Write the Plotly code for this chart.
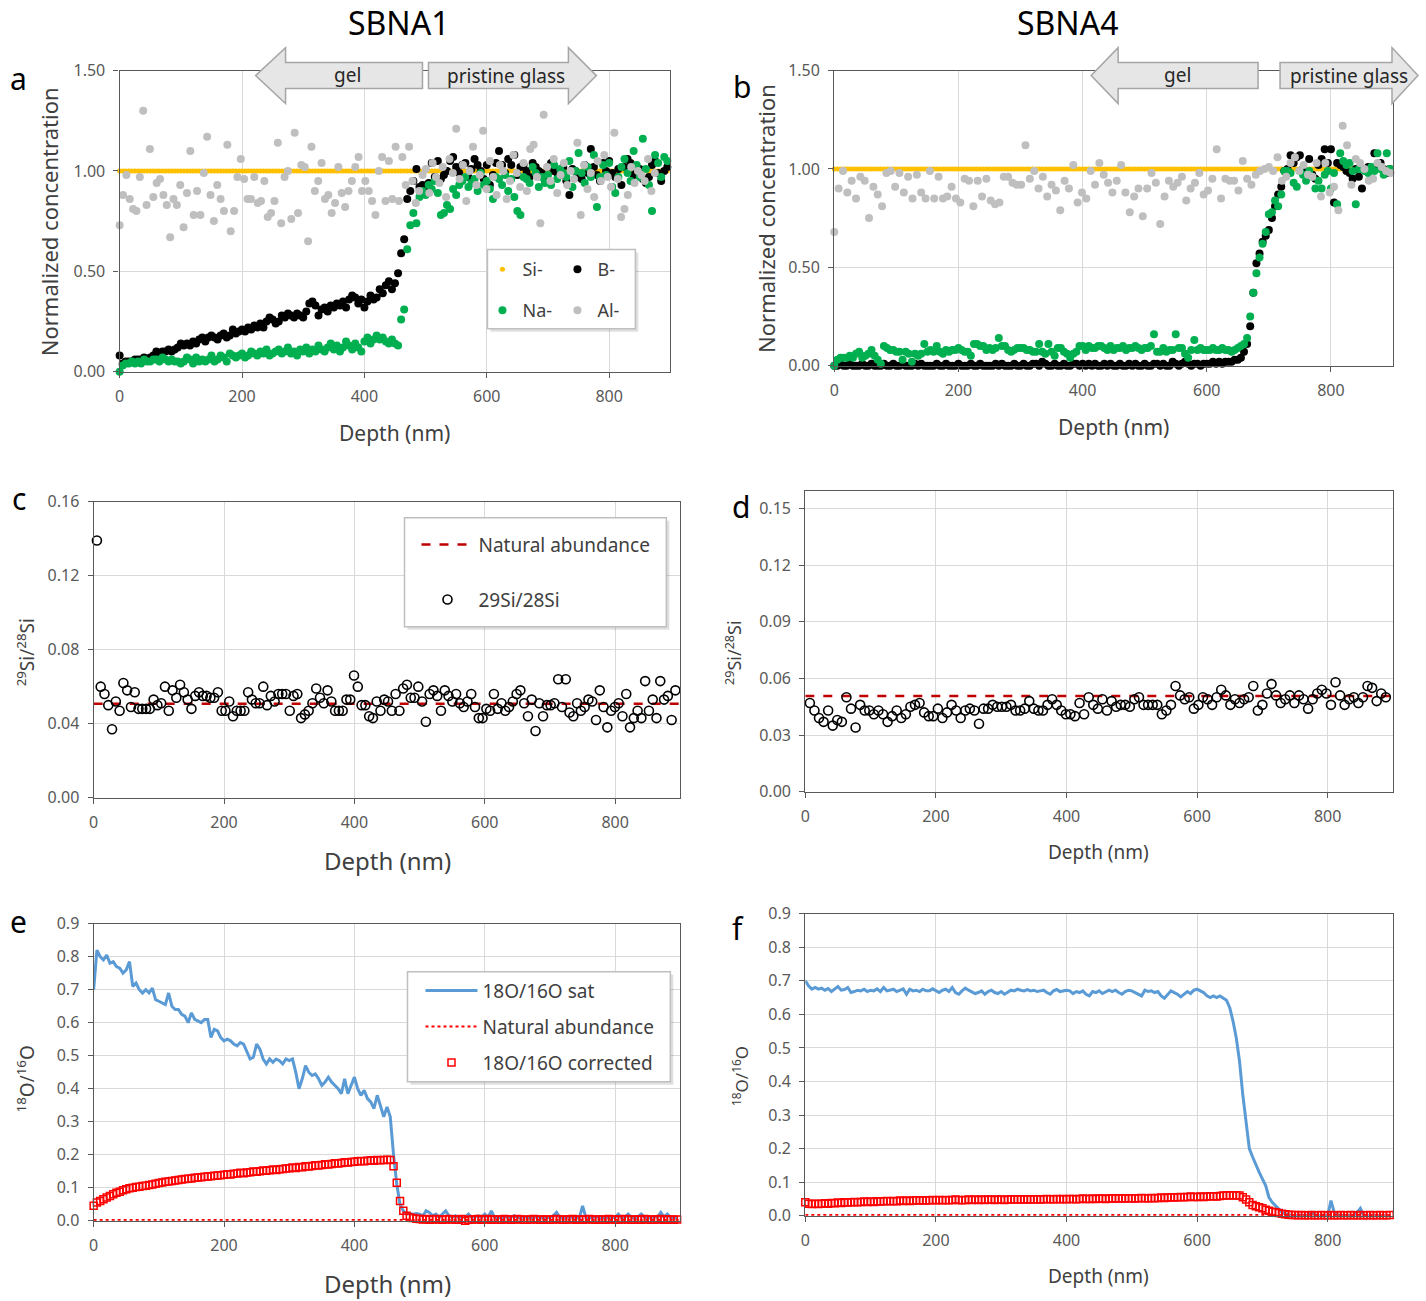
import plotly.graph_objects as go

W, H = 1426, 1301
# reference-pixel -> paper conversion (compensates the small offset/scale seen in the rendered page)
OX, SX, OY, SY = 4.3, 0.997, 10.4, 0.983
def fx(p): return ((p - OX) / SX) / W
def fy(p): return 1 - ((p - OY) / SY) / H

# ------------------------------------------------------------------ DATA
STEP = 5          # nm, depth sampling of most profiles
STEP_AL_A = 5.5   # nm, Al- profile SBNA1
STEP_AL_B = 7     # nm, Al- profile SBNA4
C_START, C_STEP = 5, 5.8   # 29Si/28Si SBNA1
D_START, D_STEP = 7, 7     # 29Si/28Si SBNA4
X_TICKS = [0, 200, 400, 600, 800]

# Panel a  (SBNA1, normalized concentration)
b_a = [0.08,0.04,0.05,0.05,0.05,0.06,0.06,0.06,0.07,0.06,0.07,0.08,0.10,0.09,0.10,0.10,0.11,0.10,0.11,0.12,
       0.14,0.13,0.14,0.13,0.15,0.14,0.16,0.17,0.15,0.17,0.18,0.17,0.16,0.18,0.19,0.17,0.18,0.21,0.19,0.20,
       0.21,0.20,0.22,0.21,0.23,0.22,0.24,0.22,0.25,0.27,0.26,0.24,0.25,0.28,0.27,0.29,0.28,0.27,0.29,0.28,
       0.27,0.30,0.34,0.35,0.33,0.28,0.31,0.32,0.30,0.33,0.32,0.34,0.33,0.35,0.32,0.36,0.38,0.37,0.34,0.36,
       0.32,0.35,0.38,0.36,0.37,0.41,0.39,0.43,0.45,0.41,0.44,0.49,0.59,0.66,0.86,0.90,0.95,1.01,0.92,0.93,
       0.91,0.94,1.04,0.97,1.05,0.96,0.98,1.00,1.05,1.07,1.02,0.99,1.03,1.04,0.97,1.01,1.06,1.03,1.00,0.96,
       1.03,0.93,0.98,1.04,1.10,1.03,0.99,1.06,1.03,1.08,0.98,1.02,1.03,1.00,0.97,1.04,1.02,1.00,0.99,0.95,
       1.02,1.04,1.00,0.99,0.98,1.02,0.95,0.88,1.01,1.00,0.97,0.96,1.03,0.99,1.11,1.02,0.98,0.95,1.04,1.00,
       1.05,0.99,0.97,1.01,0.93,1.02,1.06,1.04,0.98,1.00,1.01,0.96,0.94,0.97,1.03,1.05,0.99,0.95,1.00,1.02]
na_a = [0.00,0.03,0.04,0.04,0.05,0.04,0.05,0.04,0.06,0.05,0.05,0.06,0.06,0.05,0.07,0.06,0.05,0.06,0.05,0.05,
        0.04,0.05,0.07,0.06,0.04,0.07,0.05,0.06,0.05,0.06,0.08,0.05,0.06,0.08,0.07,0.05,0.09,0.08,0.07,0.08,
        0.09,0.07,0.08,0.10,0.09,0.08,0.10,0.09,0.11,0.08,0.09,0.10,0.11,0.09,0.10,0.12,0.09,0.10,0.08,0.11,
        0.10,0.12,0.09,0.11,0.10,0.13,0.11,0.10,0.12,0.14,0.11,0.13,0.10,0.12,0.15,0.13,0.11,0.14,0.12,0.10,
        0.15,0.17,0.14,0.16,0.18,0.16,0.17,0.15,0.14,0.16,0.14,0.13,0.26,0.31,0.61,0.73,0.79,0.74,0.87,0.90,
        0.88,0.93,0.91,0.95,0.89,0.78,0.79,0.83,0.81,0.91,0.88,0.93,0.95,0.97,0.92,0.94,0.96,0.90,0.99,0.93,
        0.95,0.91,0.86,0.97,0.96,0.93,0.98,0.90,0.96,0.87,0.80,0.78,0.97,0.96,0.94,1.02,0.99,0.92,0.97,0.94,
        0.98,0.93,1.03,0.96,1.01,0.99,0.97,1.05,0.92,1.00,1.09,0.99,0.94,1.02,0.97,1.08,0.82,0.97,1.03,0.98,
        1.04,0.92,0.89,0.97,1.02,1.06,0.99,0.95,1.10,1.03,0.97,1.16,1.01,0.93,0.80,1.08,1.04,0.97,1.07,1.05]
al_a = [0.73,0.88,0.98,0.86,0.81,0.80,0.97,1.30,0.83,1.11,0.87,0.94,0.96,0.88,0.83,0.67,0.86,0.83,0.93,0.72,
        0.89,1.10,0.78,0.90,0.78,0.99,1.17,0.88,0.75,0.93,0.86,0.80,1.13,0.70,0.80,0.97,1.06,0.96,0.86,0.86,
        0.97,0.84,0.85,0.95,0.77,0.79,0.85,1.14,0.74,0.97,1.00,0.76,1.19,0.79,1.03,1.02,0.65,1.12,0.90,0.95,
        1.04,0.86,0.88,0.79,0.84,1.02,0.89,0.82,0.90,0.95,1.02,1.07,0.90,0.95,0.90,0.85,0.78,1.00,1.07,0.85,
        1.05,0.86,1.12,0.85,1.07,
        0.93,1.12,0.95,0.84,0.90,0.98,1.01,0.89,1.04,0.97,0.94,1.02,0.87,1.06,0.99,1.21,0.96,1.03,0.85,1.00,
        1.12,0.93,0.98,1.20,0.91,1.05,0.97,0.88,1.03,1.00,0.86,0.95,1.08,0.99,0.92,1.04,0.90,1.11,1.13,0.97,
        0.74,1.28,1.02,0.95,1.06,0.89,0.98,1.04,0.93,1.00,0.96,1.14,0.78,1.03,0.91,0.99,0.87,1.05,0.95,1.08,
        0.97,0.92,1.19,0.96,0.77,0.81,0.88,1.02,0.94,1.00,0.98,0.95,1.06,0.90,0.99]
si_a = [1.00] * len(b_a)

# Panel b  (SBNA4, normalized concentration)
b_b = [0.00,0.00,0.01,0.00,0.00,0.01,0.00,0.00,0.00,0.01,0.00,0.00,0.01,0.00,0.00,0.00,0.01,0.00,0.00,0.01,
       0.00,0.00,0.01,0.00,0.00,0.00,0.01,0.00,0.01,0.00,0.00,0.00,0.00,0.01,0.00,0.00,0.01,0.00,0.00,0.00,
       0.01,0.00,0.00,0.00,0.01,0.00,0.00,0.01,0.00,0.00,0.00,0.00,0.01,0.00,0.01,0.00,0.00,0.00,0.01,0.00,
       0.00,0.01,0.00,0.00,0.01,0.01,0.00,0.02,0.01,0.00,0.00,0.01,0.00,0.00,0.01,0.00,0.00,0.01,0.01,0.00,
       0.01,0.00,0.01,0.00,0.01,0.00,0.00,0.01,0.00,0.01,0.00,0.00,0.01,0.00,0.00,0.01,0.00,0.01,0.00,0.00,
       0.01,0.00,0.00,0.01,0.01,0.00,0.01,0.00,0.00,0.02,0.01,0.00,0.01,0.02,0.01,0.00,0.01,0.01,0.00,0.01,
       0.01,0.01,0.02,0.01,0.02,0.01,0.02,0.02,0.02,0.03,0.03,0.04,0.07,0.11,0.20,0.37,0.52,0.57,0.63,0.66,
       0.69,0.75,0.81,0.87,0.91,0.99,1.00,1.07,1.03,1.06,1.07,1.00,0.98,1.05,0.97,0.95,1.02,1.05,1.10,1.03,
       1.10,0.83,1.03,1.02,1.01,0.99,0.98,0.95,1.00,0.96,0.90,1.00,1.01,1.00,1.08,1.02,1.03,1.00,0.98,1.00]
na_b = [0.00,0.03,0.04,0.04,0.04,0.05,0.04,0.06,0.07,0.04,0.05,0.06,0.08,0.05,0.03,0.01,0.10,0.09,0.08,0.08,
        0.07,0.07,0.03,0.07,0.06,0.02,0.06,0.05,0.06,0.11,0.07,0.08,0.07,0.10,0.07,0.06,0.08,0.07,0.08,0.08,
        0.09,0.08,0.07,0.07,0.05,0.11,0.11,0.10,0.10,0.08,0.09,0.08,0.09,0.14,0.10,0.10,0.08,0.07,0.08,0.09,
        0.09,0.09,0.08,0.08,0.07,0.07,0.11,0.07,0.06,0.11,0.07,0.05,0.09,0.09,0.07,0.06,0.04,0.06,0.07,0.10,
        0.10,0.08,0.10,0.09,0.09,0.10,0.10,0.09,0.08,0.10,0.08,0.09,0.09,0.10,0.08,0.09,0.09,0.10,0.09,0.08,
        0.09,0.09,0.10,0.16,0.07,0.07,0.09,0.07,0.08,0.08,0.16,0.09,0.09,0.06,0.04,0.08,0.13,0.08,0.09,0.08,
        0.08,0.08,0.09,0.08,0.08,0.09,0.08,0.08,0.07,0.08,0.09,0.10,0.11,0.14,0.25,0.37,0.47,0.55,0.62,0.68,
        0.77,0.78,0.84,0.81,0.87,0.99,0.99,0.98,0.93,0.91,0.99,0.97,0.94,0.99,0.96,0.90,0.94,0.90,0.97,0.99,
        0.90,0.98,0.82,1.08,1.04,1.02,1.03,0.99,0.82,1.00,1.00,0.99,0.98,1.01,0.99,1.08,1.00,0.97,1.08,1.00]
al_b = [0.68,0.90,0.99,0.88,0.94,0.85,0.96,0.94,0.75,0.91,0.87,0.81,0.98,0.99,0.91,0.98,0.88,0.96,0.85,0.97,
        0.88,0.85,0.99,0.85,0.96,0.85,0.86,0.91,0.85,0.83,0.95,0.94,0.81,0.94,0.86,0.95,0.84,0.82,0.83,0.96,
        0.96,0.93,0.92,0.92,1.12,0.95,0.99,0.90,0.96,0.86,0.92,0.89,0.79,0.94,0.90,1.02,0.83,0.88,0.85,0.99,
        0.92,1.03,0.97,0.93,0.88,0.94,
        1.02,0.88,0.78,0.86,0.90,0.76,0.90,0.98,0.93,0.72,0.86,0.94,0.91,0.93,0.96,0.84,0.90,0.93,0.98,0.87,
        0.89,0.95,1.10,0.85,0.95,0.94,0.94,0.89,1.04,0.95,0.92,0.97,0.99,1.00,1.01,0.99,1.06,0.94,0.96,1.03,
        1.06,0.99,1.02,0.97,0.96,1.03,0.86,1.03,0.88,0.91,0.79,1.22,1.12,0.92,1.05,1.03,1.00,0.94,0.95,1.03,
        1.01,0.99,0.98]
si_b = [1.00] * len(b_b)

# Panel c  (SBNA1, 29Si/28Si)
si29_c = [0.139,0.060,0.056,0.050,0.037,0.052,0.047,0.062,0.058,0.049,0.057,0.048,0.048,0.048,0.048,0.053,
          0.050,0.051,0.060,0.047,0.058,0.054,0.061,0.057,0.053,0.048,0.055,0.057,0.055,0.055,0.054,0.054,
          0.057,0.047,0.047,0.052,0.044,0.047,0.047,0.047,0.057,0.053,0.051,0.051,0.060,0.050,0.055,0.052,
          0.056,0.056,0.056,0.047,0.055,0.056,0.043,0.045,0.047,0.051,0.059,0.054,0.051,0.058,0.052,0.047,
          0.047,0.047,0.053,0.053,0.066,0.060,0.050,0.050,0.044,0.043,0.052,0.047,0.053,0.052,0.047,0.056,
          0.047,0.059,0.061,0.054,0.054,0.060,0.052,0.041,0.056,0.058,0.055,0.047,0.058,0.055,0.052,0.056,
          0.051,0.049,0.052,0.056,0.049,0.043,0.043,0.048,0.047,0.056,0.048,0.051,0.047,0.049,0.052,0.056,
          0.058,0.051,0.044,0.053,0.036,0.051,0.044,0.050,0.050,0.051,0.064,0.049,0.064,0.046,0.044,0.051,
          0.047,0.049,0.053,0.052,0.042,0.058,0.049,0.038,0.047,0.049,0.051,0.044,0.056,0.038,0.043,0.047,
          0.043,0.063,0.047,0.053,0.043,0.063,0.053,0.055,0.042,0.058]
nat_si = [0.0507, 0.0507]
nat_depth = [0, 900]

# Panel d  (SBNA4, 29Si/28Si)
si29_d = [0.047,0.043,0.039,0.037,0.043,0.035,0.038,0.037,0.050,0.044,0.034,0.046,0.043,0.043,0.041,0.043,
          0.041,0.037,0.040,0.043,0.039,0.041,0.045,0.046,0.047,0.042,0.040,0.040,0.044,0.039,0.042,0.046,
          0.043,0.039,0.043,0.044,0.043,0.036,0.044,0.044,0.046,0.045,0.045,0.045,0.046,0.043,0.043,0.044,
          0.048,0.044,0.043,0.043,0.046,0.049,0.046,0.043,0.041,0.041,0.040,0.047,0.041,0.050,0.046,0.044,
          0.049,0.043,0.048,0.045,0.046,0.046,0.045,0.049,0.050,0.046,0.046,0.046,0.046,0.041,0.043,0.046,
          0.056,0.051,0.049,0.050,0.044,0.046,0.050,0.049,0.046,0.050,0.054,0.051,0.046,0.049,0.047,0.049,
          0.050,0.056,0.043,0.046,0.052,0.057,0.051,0.047,0.049,0.051,0.047,0.051,0.049,0.044,0.049,0.052,
          0.054,0.052,0.046,0.058,0.051,0.046,0.049,0.050,0.047,0.050,0.056,0.055,0.048,0.052,0.050]

# Panel e  (SBNA1, 18O/16O)
o_sat_e = [0.70,0.82,0.80,0.79,0.805,0.78,0.785,0.77,0.765,0.75,0.76,0.785,0.71,0.72,0.70,0.69,0.70,0.69,0.705,0.67,
           0.665,0.66,0.655,0.69,0.65,0.64,0.64,0.625,0.62,0.60,0.63,0.61,0.605,0.60,0.61,0.61,0.555,0.58,0.575,0.555,
           0.545,0.55,0.545,0.535,0.53,0.54,0.535,0.51,0.49,0.495,0.535,0.52,0.49,0.475,0.49,0.48,0.49,0.485,0.475,0.49,
           0.485,0.49,0.45,0.40,0.43,0.47,0.45,0.44,0.445,0.43,0.41,0.42,0.435,0.42,0.41,0.40,0.385,0.43,0.385,0.41,
           0.435,0.40,0.38,0.395,0.37,0.36,0.34,0.38,0.35,0.315,0.345,0.315,0.20,0.11,0.05,0.03,0.02,0.022,0.02,0.022,
           0.02,0.015,0.03,0.025,0.015,0.02,0.01,0.02,0.03,0.015,0.01,0.015,0.01,0.012,0.01,0.02,0.01,0.012,0.015,0.01,
           0.02,0.01,0.03,0.01,0.01,0.008,0.012,0.01,0.01,0.015,0.01,0.01,0.012,0.01,0.008,0.01,0.012,0.01,0.008,0.01,
           0.01,0.015,0.025,0.01,0.008,0.01,0.012,0.01,0.01,0.008,0.045,0.01,0.008,0.01,0.012,0.01,0.008,0.01,0.01,0.012,
           0.01,0.02,0.008,0.01,0.02,0.01,0.008,0.012,0.02,0.01,0.008,0.01,0.012,0.01,0.025,0.01,0.02,0.01,0.008,0.01]
o_cor_e = [0.045,0.055,0.060,0.065,0.070,0.075,0.080,0.085,0.088,0.092,0.095,0.098,0.100,0.102,0.103,0.105,0.106,0.108,0.110,0.112,
           0.114,0.116,0.118,0.119,0.120,0.122,0.123,0.125,0.126,0.127,0.128,0.130,0.131,0.132,0.133,0.134,0.135,0.136,0.137,0.138,
           0.139,0.141,0.140,0.142,0.143,0.145,0.144,0.146,0.147,0.149,0.148,0.150,0.152,0.151,0.153,0.155,0.154,0.156,0.157,0.158,
           0.159,0.161,0.160,0.163,0.162,0.165,0.164,0.166,0.168,0.167,0.169,0.171,0.170,0.172,0.174,0.173,0.175,0.177,0.176,0.178,
           0.179,0.180,0.181,0.180,0.182,0.183,0.182,0.184,0.183,0.184,0.185,0.184,0.165,0.115,0.060,0.030,0.015,0.010,0.008,0.006,
           0.005,0.004,0.005,0.003,0.004,0.005,0.004,0.003,0.004,0.005,0.004,0.004,0.003,0.005,0.000,0.003,0.004,0.004,0.005,0.003,
           0.004,0.005,0.003,0.004,0.004,0.003,0.005,0.004,0.003,0.004,0.005,0.004,0.003,0.003,0.004,0.005,0.004,0.003,0.004,0.004,
           0.003,0.004,0.005,0.004,0.003,0.004,0.004,0.005,0.003,0.004,0.003,0.004,0.005,0.004,0.003,0.004,0.004,0.003,0.005,0.004,
           0.004,0.003,0.004,0.005,0.004,0.003,0.004,0.004,0.003,0.005,0.004,0.003,0.004,0.004,0.005,0.003,0.004,0.004,0.003,0.004]
nat_o = [0.002, 0.002]

# Panel f  (SBNA4, 18O/16O)
o_sat_f = [0.70,0.685,0.675,0.68,0.675,0.678,0.672,0.677,0.668,0.675,0.683,0.672,0.674,0.68,0.665,0.668,0.672,0.67,0.675,0.668,
           0.672,0.67,0.676,0.668,0.68,0.67,0.673,0.675,0.668,0.672,0.676,0.66,0.675,0.67,0.672,0.668,0.675,0.67,0.67,0.676,
           0.67,0.665,0.672,0.675,0.668,0.68,0.665,0.66,0.67,0.678,0.672,0.668,0.662,0.665,0.67,0.66,0.668,0.672,0.665,0.662,
           0.668,0.66,0.665,0.672,0.67,0.675,0.672,0.67,0.674,0.67,0.672,0.668,0.67,0.672,0.665,0.66,0.67,0.674,0.668,0.67,
           0.672,0.67,0.662,0.668,0.665,0.67,0.66,0.655,0.668,0.665,0.67,0.662,0.668,0.672,0.668,0.672,0.665,0.66,0.668,0.672,
           0.67,0.665,0.66,0.655,0.672,0.668,0.67,0.665,0.668,0.655,0.648,0.66,0.67,0.665,0.66,0.652,0.66,0.668,0.662,0.672,
           0.675,0.67,0.665,0.655,0.65,0.655,0.65,0.655,0.648,0.642,0.62,0.58,0.53,0.46,0.36,0.28,0.20,0.175,0.15,0.13,
           0.11,0.09,0.055,0.04,0.03,0.02,0.01,0.005,0.002,0.0,0.0,0.002,0.0,0.0,0.002,0.01,0.003,0.0,0.0,0.002,
           0.0,0.045,0.01,0.0,0.002,0.0,0.0,0.0,0.0,0.01,0.022,0.0,0.0,0.002,0.0,0.0,0.001,0.0,0.0,0.0]
o_cor_f = [0.040,0.036,0.035,0.036,0.035,0.036,0.037,0.036,0.038,0.037,0.039,0.038,0.040,0.039,0.040,0.041,0.040,0.041,0.042,0.041,
           0.042,0.041,0.043,0.042,0.043,0.044,0.043,0.044,0.043,0.045,0.044,0.045,0.044,0.045,0.046,0.045,0.046,0.045,0.046,0.047,
           0.046,0.047,0.046,0.047,0.046,0.047,0.048,0.047,0.046,0.047,0.048,0.047,0.048,0.047,0.048,0.047,0.048,0.048,0.047,0.048,
           0.048,0.047,0.048,0.049,0.048,0.048,0.049,0.048,0.049,0.048,0.049,0.049,0.048,0.049,0.050,0.049,0.049,0.050,0.049,0.050,
           0.049,0.050,0.050,0.049,0.050,0.051,0.050,0.050,0.051,0.050,0.051,0.051,0.050,0.051,0.052,0.051,0.051,0.052,0.051,0.052,
           0.052,0.051,0.052,0.053,0.052,0.052,0.053,0.052,0.053,0.054,0.053,0.054,0.055,0.054,0.055,0.056,0.055,0.056,0.057,0.056,
           0.056,0.057,0.056,0.057,0.058,0.058,0.057,0.059,0.060,0.060,0.061,0.060,0.061,0.060,0.055,0.048,0.040,0.032,0.028,0.025,
           0.022,0.018,0.015,0.012,0.010,0.008,0.006,0.004,0.003,0.002,0.002,0.001,0.002,0.001,0.001,0.002,0.001,0.001,0.002,0.001,
           0.001,0.002,0.001,0.001,0.002,0.001,0.001,0.002,0.001,0.001,0.002,0.001,0.001,0.002,0.001,0.001,0.002,0.001,0.001,0.002]

# ------------------------------------------------------------------ STYLE
C_SI, C_B, C_NA, C_AL = "#ffc000", "#000000", "#00b050", "#bfbfbf"
C_SAT, C_RED, C_DKRED = "#5b9bd5", "#ff0000", "#c00000"
GRID, BORDER, TICK, TITLE = "#d9d9d9", "#595959", "#595959", "#404040"
FONT = "Noto Sans"

def grid(vals, start, step):
    return [start + step * i for i in range(len(vals))]

def clip(xs, ys):
    pts = [(x, y) for x, y in zip(xs, ys) if x <= 900]
    return [p[0] for p in pts], [p[1] for p in pts]

fig = go.Figure()

def add(xs, ys, ax, **kw):
    x, y = clip(xs, ys)
    fig.add_trace(go.Scatter(x=x, y=y, xaxis="x" + ax, yaxis="y" + ax, cliponaxis=False, **kw))

def mk(color, size):
    return dict(color=color, size=size, line=dict(width=0))

# Panel a
add(grid(si_a, 0, STEP), si_a, "", mode="markers", name="Si-", marker=mk(C_SI, 5), legend="legend")
add(grid(b_a, 0, STEP), b_a, "", mode="markers", name="B-", marker=mk(C_B, 8), legend="legend")
add(grid(na_a, 0, STEP), na_a, "", mode="markers", name="Na-", marker=mk(C_NA, 8), legend="legend2")
add(grid(al_a, 0, STEP_AL_A), al_a, "", mode="markers", name="Al-", marker=mk(C_AL, 8), legend="legend2")
# Panel b
add(grid(si_b, 0, STEP), si_b, "2", mode="markers", marker=mk(C_SI, 5), showlegend=False)
add(grid(b_b, 0, STEP), b_b, "2", mode="markers", marker=mk(C_B, 8), showlegend=False)
add(grid(na_b, 0, STEP), na_b, "2", mode="markers", marker=mk(C_NA, 8), showlegend=False)
add(grid(al_b, 0, STEP_AL_B), al_b, "2", mode="markers", marker=mk(C_AL, 8), showlegend=False)
# Panel c
add(nat_depth, nat_si, "3", mode="lines", name="Natural abundance",
    line=dict(color=C_DKRED, width=2.5, dash="dash"), legend="legend3")
circ = dict(symbol="circle-open", size=9, color="#000000", line=dict(width=1.6, color="#000000"))
add(grid(si29_c, C_START, C_STEP), si29_c, "3", mode="markers", name="29Si/28Si", marker=circ, legend="legend4")
# Panel d
add(nat_depth, nat_si, "4", mode="lines", line=dict(color=C_DKRED, width=2.5, dash="dash"), showlegend=False)
add(grid(si29_d, D_START, D_STEP), si29_d, "4", mode="markers", marker=circ, showlegend=False)
# Panel e
sq = dict(symbol="square-open", size=7, color=C_RED, line=dict(width=1.5, color=C_RED))
add(grid(o_sat_e, 0, STEP), o_sat_e, "5", mode="lines", name="18O/16O sat",
    line=dict(color=C_SAT, width=3), legend="legend5")
add(nat_depth, nat_o, "5", mode="lines", name="Natural abundance",
    line=dict(color=C_RED, width=2, dash="dot"), legend="legend6")
add(grid(o_cor_e, 0, STEP), o_cor_e, "5", mode="markers", name="18O/16O corrected", marker=sq, legend="legend7")
# Panel f
add(grid(o_sat_f, 0, STEP), o_sat_f, "6", mode="lines", line=dict(color=C_SAT, width=3), showlegend=False)
add(nat_depth, nat_o, "6", mode="lines", line=dict(color=C_RED, width=2, dash="dot"), showlegend=False)
add(grid(o_cor_f, 0, STEP), o_cor_f, "6", mode="markers", marker=sq, showlegend=False)

# ------------------------------------------------------------------ AXES
panels = {
    "":  dict(box=(119, 670, 70, 371),  yr=[0, 1.5],    yt=[0, 0.5, 1.0, 1.5], fmt=".2f"),
    "2": dict(box=(834, 1393, 70, 365), yr=[0, 1.5],    yt=[0, 0.5, 1.0, 1.5], fmt=".2f"),
    "3": dict(box=(93, 680, 501, 797),  yr=[0, 0.16],   yt=[0, 0.04, 0.08, 0.12, 0.16], fmt=".2f"),
    "4": dict(box=(805, 1393, 490, 791), yr=[0, 0.1595], yt=[0, 0.03, 0.06, 0.09, 0.12, 0.15], fmt=".2f"),
    "5": dict(box=(93, 680, 923, 1220), yr=[0, 0.9],    yt=[i / 10 for i in range(10)], fmt=".1f"),
    "6": dict(box=(805, 1393, 913, 1215), yr=[0, 0.9],  yt=[i / 10 for i in range(10)], fmt=".1f"),
}
common = dict(showline=True, mirror=True, linecolor=BORDER, linewidth=1.3, showgrid=True,
              gridcolor=GRID, gridwidth=1, zeroline=False, ticks="outside", ticklen=5,
              tickcolor=BORDER, tickfont=dict(family=FONT, size=16, color=TICK),
              ticklabelstandoff=5, fixedrange=True)
lay = {}
for k, p in panels.items():
    l, r, t, b = p["box"]
    lay["xaxis" + k] = dict(common, domain=[fx(l), fx(r)], range=[0, 900], tickvals=X_TICKS,
                            anchor="y" + (k or ""))
    lay["yaxis" + k] = dict(common, domain=[fy(b), fy(t)], range=p["yr"], tickvals=p["yt"],
                            tickformat=p["fmt"], anchor="x" + (k or ""))
fig.update_layout(**lay)

# ------------------------------------------------------------------ LEGENDS
def leg(xp, yp, size=19, ew=None, iw=30):
    d = dict(x=fx(xp), y=fy(yp), xanchor="left", yanchor="middle", orientation="h",
             bgcolor="rgba(0,0,0,0)", borderwidth=0, itemwidth=iw,
             font=dict(family=FONT, size=size, color=TITLE))
    if ew:
        d.update(entrywidth=ew, entrywidthmode="pixels")
    return d

fig.update_layout(
    legend=leg(482, 269, 18, 30), legend2=leg(482, 310, 18, 30),
    legend3=leg(416, 544, iw=52), legend4=leg(416, 599, iw=52),
    legend5=leg(420, 990, iw=52), legend6=leg(420, 1026, iw=52), legend7=leg(420, 1062, iw=52),
)

# ------------------------------------------------------------------ SHAPES
shapes = []
def rect(x0, y0, x1, y1):
    # soft shadow, then the white legend frame
    shapes.append(dict(type="rect", xref="paper", yref="paper", x0=fx(x0 + 3), x1=fx(x1 + 3),
                       y0=fy(y1 + 3), y1=fy(y0 + 3), line=dict(width=0),
                       fillcolor="rgba(0,0,0,0.12)", layer="above"))
    shapes.append(dict(type="rect", xref="paper", yref="paper", x0=fx(x0), x1=fx(x1),
                       y0=fy(y1), y1=fy(y0), line=dict(color="#bfbfbf", width=1.5),
                       fillcolor="white", layer="above"))
rect(487, 249, 635, 328)
rect(404, 517, 666, 626)
rect(407, 971, 670, 1081)

def arrow(tip, head, tail, cy=75, bh=13, hh=28):
    pts = [(tip, cy), (head, cy - hh), (head, cy - bh), (tail, cy - bh), (tail, cy + bh),
           (head, cy + bh), (head, cy + hh)]
    path = "M " + " L ".join(f"{fx(x):.5f},{fy(y):.5f}" for x, y in pts) + " Z"
    shapes.append(dict(type="path", xref="paper", yref="paper", path=path,
                       fillcolor="#e7e6e6", line=dict(color="#a6a6a6", width=1.5), layer="above"))
arrow(255, 285, 422)    # gel (a)
arrow(596, 568, 428)    # pristine glass (a)
arrow(1091, 1118, 1258) # gel (b)
arrow(1418, 1392, 1280) # pristine glass (b)
fig.update_layout(shapes=shapes)

# ------------------------------------------------------------------ TEXT
ann = []
def text(s, x, y, size, color=TITLE, angle=0):
    ann.append(dict(text=s, x=fx(x), y=fy(y), xref="paper", yref="paper", showarrow=False,
                    xanchor="center", yanchor="middle", textangle=angle,
                    font=dict(family=FONT, size=size, color=color)))
text("SBNA1", 398, 22, 32, "#000000")
text("SBNA4", 1067, 22, 32, "#000000")
for s, x, y in [("a", 18, 78), ("b", 742, 86), ("c", 18, 498), ("d", 741, 506), ("e", 18, 921), ("f", 738, 928)]:
    text(s, x, y, 30, "#000000")
text("gel", 347, 74, 19, "#262626")
text("pristine glass", 506, 75, 19, "#262626")
text("gel", 1177, 74, 19, "#262626")
text("pristine glass", 1349, 75, 19, "#262626")
text("Normalized concentration", 48, 221, 22, TITLE, -90)
text("Normalized concentration", 765, 218, 22, TITLE, -90)
text("Depth (nm)", 394, 432, 21)
text("Depth (nm)", 1113, 426, 21)
text("Depth (nm)", 387, 860, 24)
text("Depth (nm)", 1098, 851, 19)
text("Depth (nm)", 387, 1283, 24)
text("Depth (nm)", 1098, 1275, 19)
text("<sup>29</sup>Si/<sup>28</sup>Si", 25, 652, 19, TITLE, -90)
text("<sup>29</sup>Si/<sup>28</sup>Si", 733, 652, 18, TITLE, -90)
text("<sup>18</sup>O/<sup>16</sup>O", 25, 1078, 19, TITLE, -90)
text("<sup>18</sup>O/<sup>16</sup>O", 740, 1075, 17, TITLE, -90)
fig.update_layout(annotations=ann)

fig.update_layout(width=W, height=H, autosize=False, margin=dict(l=0, r=0, t=0, b=0),
                  paper_bgcolor="white", plot_bgcolor="white",
                  font=dict(family=FONT, color=TITLE), hovermode=False)
fig.write_html("out.html", config={"displayModeBar": False})
